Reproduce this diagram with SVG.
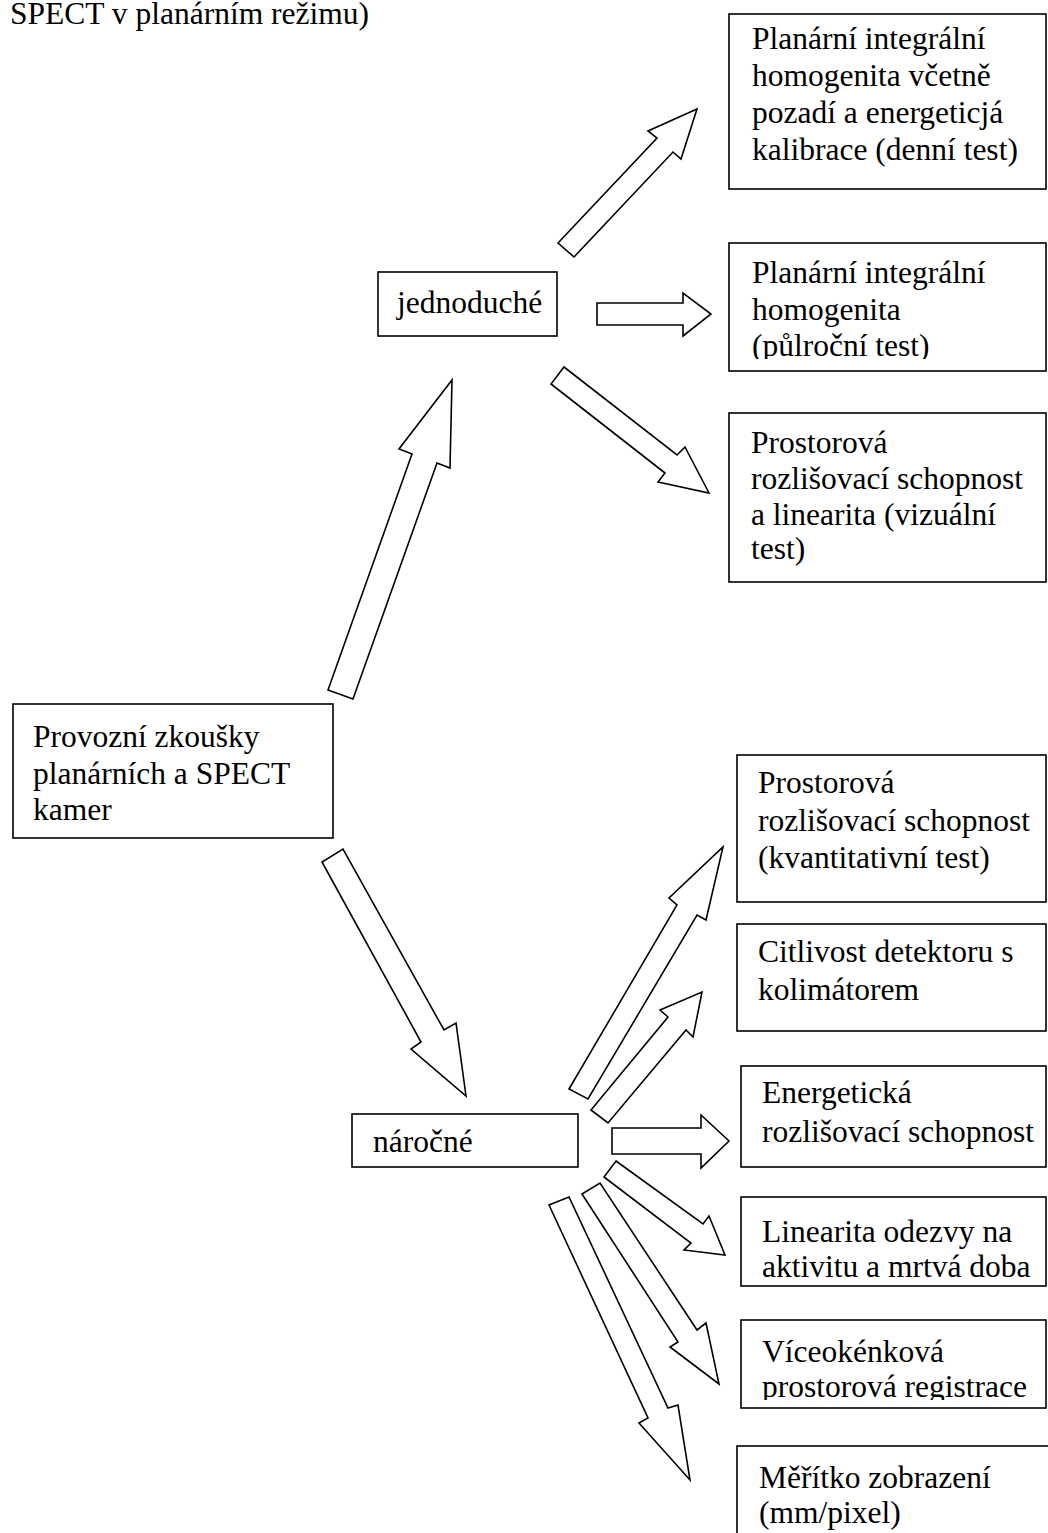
<svg xmlns="http://www.w3.org/2000/svg" width="1048" height="1533" viewBox="0 0 1048 1533">
<style>
.box{fill:#fff;stroke:#000;stroke-width:1.6}
.arr{fill:#fff;stroke:#000;stroke-width:1.6;stroke-linejoin:miter}
text{font-family:"Liberation Serif","Times New Roman",serif;font-size:31.5px;fill:#000}
</style>
<defs>
<clipPath id="c2"><rect x="729" y="243" width="320" height="116"/></clipPath>
<clipPath id="c8"><rect x="741" y="1320" width="320" height="80"/></clipPath>
</defs>
<rect width="1048" height="1533" fill="#fff"/>
<text x="10" y="24">SPECT v planárním režimu)</text>
<g id="connectors">
<polygon class="arr" points="558,243 657,138 648,131 697,109 681,159 673,152 574,257"/>
<polygon class="arr" points="597,303 683,303 683,293 711,314 683,336 683,325 597,325"/>
<polygon class="arr" points="564,367 677,455 685,447 709,493 658,482 665,473 551,384"/>
<polygon class="arr" points="328,690 412,454 399,449 452,380 450,468 437,463 353,699"/>
<polygon class="arr" points="322,862 421,1042 411,1049 466,1096 456,1023 444,1030 343,849"/>
<polygon class="arr" points="569,1089 677,905 669,898 723,847 706,920 697,915 588,1099"/>
<polygon class="arr" points="591,1110 668,1017 660,1010 702,992 693,1037 686,1030 608,1123"/>
<polygon class="arr" points="612,1128 701,1128 701,1115 729,1141 701,1168 701,1154 612,1154"/>
<polygon class="arr" points="616,1161 703,1224 709,1216 725,1255 684,1250 691,1243 604,1177"/>
<polygon class="arr" points="582,1194 678,1342 670,1347 719,1384 706,1323 697,1330 600,1183"/>
<polygon class="arr" points="549,1205 648,1418 639,1423 690,1480 678,1405 668,1408 569,1197"/>
</g>
<g id="root">
<rect class="box" x="13" y="704" width="320" height="134"/>
<text x="33" y="747">Provozní zkoušky</text>
<text x="33" y="784">planárních a SPECT</text>
<text x="33" y="820">kamer</text>
</g>
<g id="jednoduche">
<rect class="box" x="378" y="272" width="179" height="64"/>
<text x="397" y="313">jednoduché</text>
</g>
<g id="narocne">
<rect class="box" x="352" y="1114" width="226" height="53"/>
<text x="373" y="1152">náročné</text>
</g>
<g id="b1">
<rect class="box" x="729" y="14" width="317" height="175"/>
<text x="752" y="49">Planární integrální</text>
<text x="752" y="86">homogenita včetně</text>
<text x="752" y="123">pozadí a energeticjá</text>
<text x="752" y="160">kalibrace (denní test)</text>
</g>
<g id="b2">
<rect class="box" x="729" y="243" width="317" height="128"/>
<g clip-path="url(#c2)">
<text x="752" y="283">Planární integrální</text>
<text x="752" y="320">homogenita</text>
<text x="752" y="356">(půlroční test)</text>
</g>
</g>
<g id="b3">
<rect class="box" x="729" y="413" width="317" height="169"/>
<text x="751" y="453">Prostorová</text>
<text x="751" y="489">rozlišovací schopnost</text>
<text x="751" y="525">a linearita (vizuální</text>
<text x="751" y="559">test)</text>
</g>
<g id="b4">
<rect class="box" x="737" y="755" width="309" height="147"/>
<text x="758" y="793">Prostorová</text>
<text x="758" y="831">rozlišovací schopnost</text>
<text x="758" y="868">(kvantitativní test)</text>
</g>
<g id="b5">
<rect class="box" x="737" y="924" width="309" height="107"/>
<text x="758" y="962">Citlivost detektoru s</text>
<text x="758" y="1000">kolimátorem</text>
</g>
<g id="b6">
<rect class="box" x="741" y="1066" width="305" height="101"/>
<text x="762" y="1103">Energetická</text>
<text x="762" y="1142">rozlišovací schopnost</text>
</g>
<g id="b7">
<rect class="box" x="741" y="1197" width="305" height="89"/>
<text x="762" y="1242">Linearita odezvy na</text>
<text x="762" y="1277">aktivitu a mrtvá doba</text>
</g>
<g id="b8">
<rect class="box" x="741" y="1320" width="305" height="88"/>
<g clip-path="url(#c8)">
<text x="762" y="1362">Víceokénková</text>
<text x="762" y="1397">prostorová registrace</text>
</g>
</g>
<g id="b9">
<rect class="box" x="737" y="1446" width="320" height="100"/>
<text x="759" y="1488">Měřítko zobrazení</text>
<text x="759" y="1523">(mm/pixel)</text>
</g>
</svg>
